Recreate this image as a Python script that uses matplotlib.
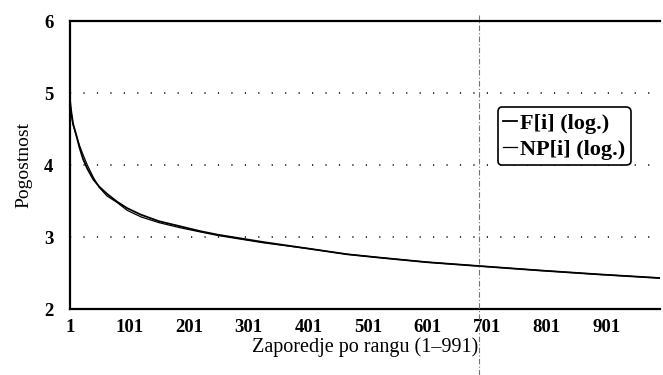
import matplotlib
matplotlib.use("Agg")
import matplotlib.pyplot as plt
from matplotlib.lines import Line2D

plt.rcParams['font.family'] = ['Liberation Serif', 'DejaVu Serif']

# rank positions and log frequencies
rank = [1, 3, 6, 12, 17, 23, 30, 40, 50, 63, 80, 97, 120, 150, 185, 220, 250,
        325, 400, 466, 525, 600, 690, 790, 890, 991]
f_log = [4.90, 4.75, 4.58, 4.40, 4.24, 4.08, 3.95, 3.80, 3.70, 3.60, 3.49, 3.40,
         3.31, 3.22, 3.15, 3.08, 3.03, 2.93, 2.84, 2.76, 2.71, 2.65, 2.595,
         2.535, 2.48, 2.43]
np_log = [4.85, 4.72, 4.56, 4.40, 4.27, 4.14, 4.00, 3.83, 3.69, 3.57, 3.48, 3.37,
          3.28, 3.20, 3.13, 3.07, 3.02, 2.92, 2.84, 2.76, 2.71, 2.65, 2.595,
          2.535, 2.48, 2.43]

xticks = [1, 101, 201, 301, 401, 501, 601, 701, 801, 901]
yticks = [2, 3, 4, 5, 6]
marker_x = 479 / 663  # vertical dash-dot marker, figure coords

fig = plt.figure(figsize=(6.63, 3.75), dpi=100)
ax = fig.add_axes([70 / 663, (375 - 309) / 375, 590 / 663, 288 / 375])

ax.plot(rank, f_log, color='black', lw=1.3, label='F[i] (log.)')
ax.plot(rank, np_log, color='black', lw=0.9, label='NP[i] (log.)')

ax.set_xlim(1, 991)
ax.set_ylim(2, 6)
ax.set_xticks(xticks)
ax.set_yticks(yticks)
ax.tick_params(length=0, labelsize=13.5)
ax.tick_params(axis='x', pad=7)
ax.tick_params(axis='y', pad=12)
for lbl in ax.get_xticklabels() + ax.get_yticklabels():
    lbl.set_fontweight('bold')

for y in [3, 4, 5]:
    ax.axhline(y, color='black', lw=1.1, ls=(0, (0.8, 8.0)), zorder=0)

for side in ['left', 'top', 'bottom']:
    ax.spines[side].set_linewidth(1.6)
ax.spines['right'].set_visible(False)

ax.set_xlabel('Zaporedje po rangu (1\u2013991)', fontsize=14.5, labelpad=1)
ax.set_ylabel('Pogostnost', fontsize=14)
ax.yaxis.set_label_coords(-0.063, 0.5)

leg = ax.legend(loc='upper left', bbox_to_anchor=(0.725, 0.70), frameon=True,
                fancybox=True, framealpha=1, edgecolor='black',
                prop={'size': 16, 'weight': 'bold'}, handlelength=0.6,
                handletextpad=0.15, borderpad=0.25, labelspacing=0.25,
                borderaxespad=0)
leg.get_frame().set_linewidth(1.2)

fig.add_artist(Line2D([marker_x, marker_x], [0, 0.96], transform=fig.transFigure,
                      color='0.45', lw=0.8, ls=(0, (5, 2, 1, 2))))

fig.savefig('out.png', dpi=100)
